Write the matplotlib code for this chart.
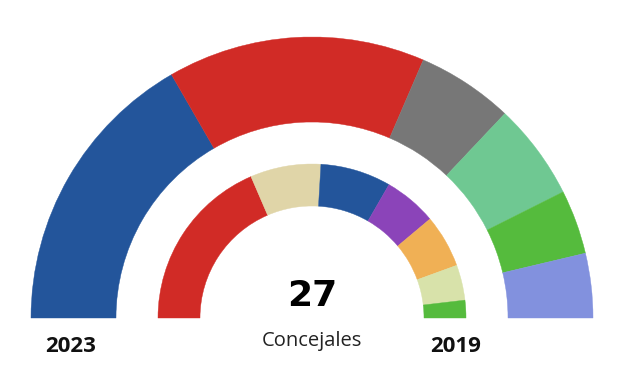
import matplotlib
matplotlib.use("Agg")
import matplotlib.pyplot as plt
from matplotlib.patches import Wedge

# seats per party, listed from the left end of each arc
seats_2023 = [9, 8, 3, 3, 2, 2]
colors_2023 = ["#23559b", "#d12b26", "#777777", "#6fc892", "#55bb3d", "#8291de"]

seats_2019 = [10, 4, 4, 3, 3, 2, 1]
colors_2019 = ["#d12b26", "#e0d5a8", "#23559b", "#8b44b9", "#f0b055", "#d8e2aa", "#55bb3d"]

total = 27
title_total = "27"
label_total = "Concejales"
label_left = "2023"
label_right = "2019"

W, H = 627, 376
cx, cy = 312, H - 318

fig = plt.figure(figsize=(W / 100, H / 100), dpi=100)
ax = fig.add_axes([0, 0, 1, 1])
ax.set_xlim(0, W)
ax.set_ylim(0, H)
ax.set_aspect("equal")
ax.axis("off")


def draw_ring(seats, colors, r_out, r_in):
    start = 180.0
    for n, c in zip(seats, colors):
        span = 180.0 * n / total
        w = Wedge((cx, cy), r_out, start - span, start, width=r_out - r_in,
                  facecolor=c, edgecolor=c, linewidth=0.3)
        ax.add_patch(w)
        start -= span


draw_ring(seats_2023, colors_2023, 281, 196)
draw_ring(seats_2019, colors_2019, 154, 112)

ax.text(cx, H - 306.5, title_total, ha="center", va="baseline",
        fontsize=26, fontweight="bold", family="DejaVu Sans", color="black")
ax.text(cx, H - 346, label_total, ha="center", va="baseline",
        fontsize=14.5, family="Open Sans", color="#222222")
ax.text(70.5, H - 352, label_left, ha="center", va="baseline",
        fontsize=16, fontweight="bold", family="Open Sans", color="#111111")
ax.text(456, H - 352, label_right, ha="center", va="baseline",
        fontsize=16, fontweight="bold", family="Open Sans", color="#111111")

fig.savefig("out.png", dpi=100, facecolor="white")
